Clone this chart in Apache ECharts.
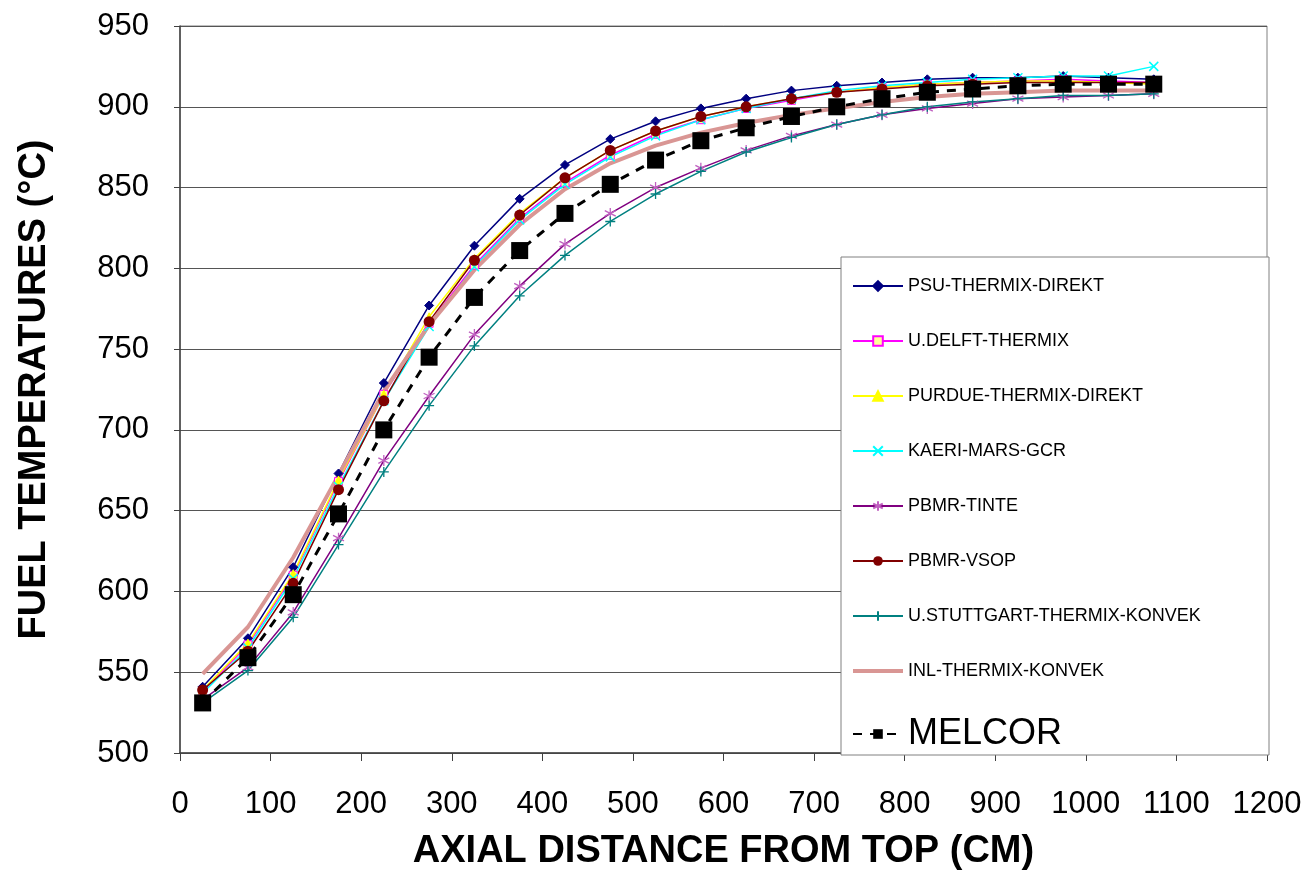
<!DOCTYPE html>
<html>
<head>
<meta charset="utf-8">
<title>Fuel temperatures</title>
<script src="https://cdn.jsdelivr.net/npm/echarts@6/dist/echarts.min.js"></script>
<style>
  html, body { margin: 0; padding: 0; background: #fff; }
  #chart { width: 1310px; height: 876px; }
</style>
</head>
<body>
<div id="chart"></div>
<script>
// 轴向位置 (cm)
const distance = [25, 75, 125, 175, 225, 275, 325, 375, 425, 475, 525, 575, 625, 675, 725, 775, 825, 875, 925, 975, 1025, 1075]

const psuThermixDirekt = [541, 571, 615, 673, 729, 777, 814, 843, 864, 880, 891, 899, 905, 910, 913, 915, 917, 918, 918, 919, 918, 917]
const uDelftThermix = [538, 567, 610, 668, 722, 766, 802, 831, 853, 870, 883, 892, 899, 904, 909, 912, 914, 915, 916, 917, 916, 915]
const purdueThermixDirekt = [539, 568, 611, 669, 722, 770, 806, 834, 856, 873, 885, 894, 900, 905, 909, 912, 914, 915, 916, 916, 915, 914]
const kaeriMarsGcr = [537, 565, 608, 665, 718, 764, 801, 830, 852, 869, 882, 892, 899, 905, 910, 913, 915, 917, 918, 919, 919, 925]
const pbmrTinte = [533, 553, 587, 633, 681, 721, 759, 789, 815, 834, 850, 862, 873, 882, 889, 895, 899, 902, 905, 906, 907, 908]
const pbmrVsop = [539, 563, 605, 663, 718, 767, 805, 833, 856, 873, 885, 894, 900, 905, 909, 911, 913, 914, 915, 915, 915, 915]
const uStuttgartKonvek = [531, 551, 584, 629, 674, 715, 752, 783, 808, 829, 846, 860, 872, 881, 889, 895, 900, 903, 905, 907, 907, 908]
const inlThermixKonvek = [549, 578, 621, 672, 724, 765, 799, 827, 849, 865, 876, 884, 890, 895, 899, 903, 906, 908, 909, 910, 910, 910]
const melcor = [531, 559, 598, 648, 700, 745, 782, 811, 834, 852, 867, 879, 887, 894, 900, 905, 909, 911, 913, 914, 914, 914]

const yTicks = [500, 550, 600, 650, 700, 750, 800, 850, 900, 950]
const xTicks = [0, 100, 200, 300, 400, 500, 600, 700, 800, 900, 1000, 1100, 1200]

const FONT = '"Liberation Sans", Arial, sans-serif'

// 自定义标记
const SYM_X = 'path://M0,0L10,10M10,0L0,10'
const SYM_STAR = 'path://M5,0L5,10M0.7,2.5L9.3,7.5M0.7,7.5L9.3,2.5'
const SYM_PLUS = 'path://M5,0L5,10M0,5L10,5'
const ICON_THICK_LINE = 'path://M0,0L50,0L50,4L0,4Z'

const pairs = (vals) => distance.map((d, i) => [d, vals[i]])

const chart = echarts.init(document.getElementById('chart'))

const lineSeries = (name, vals, color, symbol, size, extra = {}) => ({
  name,
  type: 'line',
  data: pairs(vals),
  symbol,
  symbolSize: size,
  showSymbol: symbol !== 'none',
  lineStyle: { color, width: 1.5 },
  itemStyle: { color, borderColor: color, borderWidth: 1 },
  emphasis: { disabled: true },
  animation: false,
  ...extra
})

const option = {
  backgroundColor: '#fff',
  animation: false,
  grid: {
    left: 180,
    right: 43,
    top: 26,
    bottom: 121,
    show: true,
    borderColor: '#808080',
    borderWidth: 1
  },
  xAxis: {
    type: 'value',
    min: 0,
    max: 1200,
    interval: 100,
    name: 'AXIAL DISTANCE FROM TOP (CM)',
    nameLocation: 'middle',
    nameGap: 80,
    nameTextStyle: { fontFamily: FONT, fontSize: 38, fontWeight: 'bold', color: '#000' },
    axisLine: { lineStyle: { color: '#404040', width: 1.5 } },
    axisTick: { show: true, inside: false, length: 8, lineStyle: { color: '#404040' } },
    axisLabel: {
      margin: 36,
      fontFamily: FONT,
      fontSize: 31,
      color: '#000',
      formatter: (v) => (xTicks.includes(v) ? String(v) : '')
    },
    splitLine: { show: false }
  },
  yAxis: {
    type: 'value',
    min: 500,
    max: 950,
    interval: 50,
    name: 'FUEL TEMPERATURES (°C)',
    nameLocation: 'middle',
    nameGap: 126,
    nameRotate: 90,
    nameTextStyle: { fontFamily: FONT, fontSize: 38, fontWeight: 'bold', color: '#000' },
    axisLine: { show: true, lineStyle: { color: '#404040', width: 1.5 } },
    axisTick: { show: true, inside: false, length: 6, lineStyle: { color: '#404040' } },
    axisLabel: {
      margin: 31,
      fontFamily: FONT,
      fontSize: 31,
      color: '#000',
      formatter: (v) => (yTicks.includes(v) ? String(v) : '')
    },
    splitLine: { show: true, lineStyle: { color: '#555', width: 1.2 } }
  },
  legend: {
    orient: 'vertical',
    left: 841,
    top: 257,
    padding: [19, 11, 3, 11],
    itemWidth: 50,
    itemHeight: 12,
    itemGap: 35,
    backgroundColor: '#fff',
    borderColor: '#808080',
    borderWidth: 1,
    borderRadius: 0,
    textStyle: { fontFamily: FONT, fontSize: 18, color: '#000', lineHeight: 20, width: 350 },
    data: [
      'PSU-THERMIX-DIREKT',
      'U.DELFT-THERMIX',
      'PURDUE-THERMIX-DIREKT',
      'KAERI-MARS-GCR',
      'PBMR-TINTE',
      'PBMR-VSOP',
      'U.STUTTGART-THERMIX-KONVEK',
      { name: 'INL-THERMIX-KONVEK', icon: ICON_THICK_LINE },
      { name: 'MELCOR', textStyle: { fontSize: 36, lineHeight: 26 } }
    ]
  },
  series: [
    lineSeries('PSU-THERMIX-DIREKT', psuThermixDirekt, '#000080', 'diamond', 9),
    lineSeries('U.DELFT-THERMIX', uDelftThermix, '#ff00ff', 'rect', 8, {
      itemStyle: { color: '#ffff99', borderColor: '#ff00ff', borderWidth: 1 }
    }),
    lineSeries('PURDUE-THERMIX-DIREKT', purdueThermixDirekt, '#ffff00', 'triangle', 8),
    lineSeries('KAERI-MARS-GCR', kaeriMarsGcr, '#00ffff', SYM_X, 9, {
      itemStyle: { color: 'transparent', borderColor: '#00ffff', borderWidth: 1.5 }
    }),
    lineSeries('PBMR-TINTE', pbmrTinte, '#800080', SYM_STAR, 11, {
      itemStyle: { color: 'transparent', borderColor: '#c060c0', borderWidth: 1.3 }
    }),
    lineSeries('PBMR-VSOP', pbmrVsop, '#800000', 'circle', 11, {
      itemStyle: { color: '#800000', borderColor: '#800000', borderWidth: 0 }
    }),
    lineSeries('U.STUTTGART-THERMIX-KONVEK', uStuttgartKonvek, '#008080', SYM_PLUS, 10, {
      itemStyle: { color: 'transparent', borderColor: '#008080', borderWidth: 1.3 }
    }),
    lineSeries('INL-THERMIX-KONVEK', inlThermixKonvek, '#d99694', 'none', 0, {
      lineStyle: { color: '#d99694', width: 4 },
      itemStyle: { color: '#d99694' }
    }),
    lineSeries('MELCOR', melcor, '#000', 'rect', 17, {
      lineStyle: { color: '#000', width: 3, type: [9, 8] },
      itemStyle: { color: '#000', borderWidth: 0 },
      z: 5
    })
  ]
}

chart.setOption(option)
</script>
</body>
</html>
